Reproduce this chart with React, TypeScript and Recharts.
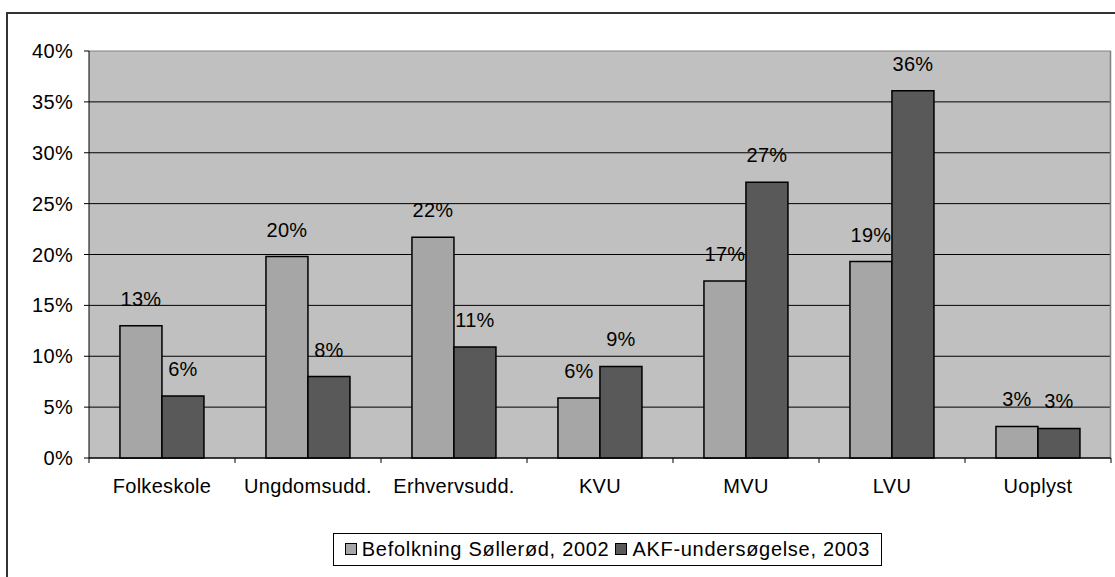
import React from 'react';
import { BarChart, Bar, XAxis, YAxis, CartesianGrid, LabelList } from 'recharts';

const categories = ['Folkeskole', 'Ungdomsudd.', 'Erhvervsudd.', 'KVU', 'MVU', 'LVU', 'Uoplyst'];
const befolkning = [13.0, 19.8, 21.7, 5.9, 17.4, 19.3, 3.1];
const akf = [6.1, 8.0, 10.9, 9.0, 27.1, 36.1, 2.9];
const yTicks = [0, 5, 10, 15, 20, 25, 30, 35, 40];
const seriesNames = ['Befolkning Søllerød, 2002', 'AKF-undersøgelse, 2003'];

const data = categories.map((name, i) => ({ name, befolkning: befolkning[i], akf: akf[i] }));

const W = 1115;
const H = 577;
const MARGIN = { top: 51, right: 4, bottom: 89, left: 9 };
const Y_WIDTH = 80;
const X_HEIGHT = 30;
const PLOT_LEFT = MARGIN.left + Y_WIDTH;
const PLOT_RIGHT = W - MARGIN.right;
const BAND = (PLOT_RIGHT - PLOT_LEFT) / categories.length;

const LIGHT = '#A6A6A6';
const DARK = '#595959';
const FONT = '"Liberation Sans", Arial, sans-serif';
const textStyle = { fontFamily: FONT, fontSize: 20, letterSpacing: 0.3, fill: '#000' };

const pct = (v: any) => `${Math.round(Number(v))}%`;

const CategoryTick = (props: any) => {
  const { x, y, payload, index } = props;
  const left = x - BAND / 2;
  return (
    <g>
      <line x1={left} y1={y} x2={left} y2={y + 5} stroke="#000" />
      {index === categories.length - 1 && (
        <line x1={left + BAND} y1={y} x2={left + BAND} y2={y + 5} stroke="#000" />
      )}
      <text x={x} y={y + 35} textAnchor="middle" style={textStyle}>
        {payload.value}
      </text>
    </g>
  );
};

const GridLine = (p: any) => (
  <line
    key={p.key}
    x1={p.x1}
    y1={p.y1}
    x2={p.x2}
    y2={p.y2}
    stroke={p.y1 < MARGIN.top + 2 ? '#808080' : '#000'}
    strokeWidth={1}
  />
);

const BorderLine = (p: any) => (
  <line key={p.key} x1={p.x1} y1={p.y1} x2={p.x2} y2={p.y2} stroke="#808080" strokeWidth={1.5} />
);

const Swatch = ({ color }: { color: string }) => (
  <span
    style={{
      display: 'inline-block',
      width: 10,
      height: 10,
      background: color,
      border: '1px solid #000',
      marginRight: 5,
      verticalAlign: 'middle',
      position: 'relative',
      top: -1,
    }}
  />
);

export default function App() {
  return (
    <div style={{ position: 'absolute', left: 0, top: 0, width: W, height: H, background: '#fff', overflow: 'hidden' }}>
      <div
        style={{
          position: 'absolute',
          left: 6,
          top: 12,
          width: W,
          height: H,
          borderLeft: '2px solid #333',
          borderTop: '2px solid #333',
        }}
      />
      <div style={{ position: 'absolute', left: 0, top: 0 }}>
        <BarChart width={W} height={H} data={data} margin={MARGIN} barCategoryGap="21.2%" barGap={0}>
          <CartesianGrid
            fill="#C0C0C0"
            stroke="#000"
            horizontal={GridLine}
            vertical={BorderLine}
            verticalPoints={[PLOT_RIGHT - 0.5]}
          />
          <XAxis
            dataKey="name"
            height={X_HEIGHT}
            axisLine={{ stroke: '#000' }}
            tickLine={false}
            tickSize={0}
            tickMargin={0}
            interval={0}
            tick={<CategoryTick />}
          />
          <YAxis
            width={Y_WIDTH}
            domain={[0, 40]}
            ticks={yTicks}
            tickFormatter={(v) => `${v}%`}
            axisLine={{ stroke: '#000' }}
            tickLine={{ stroke: '#000' }}
            tickSize={5}
            tickMargin={11}
            tick={textStyle}
          />
          <Bar dataKey="befolkning" fill={LIGHT} stroke="#000" strokeWidth={1.5} isAnimationActive={false}>
            <LabelList dataKey="befolkning" position="top" offset={20} formatter={pct} style={textStyle} />
          </Bar>
          <Bar dataKey="akf" fill={DARK} stroke="#000" strokeWidth={1.5} isAnimationActive={false}>
            <LabelList dataKey="akf" position="top" offset={20} formatter={pct} style={textStyle} />
          </Bar>
        </BarChart>
      </div>
      <div
        style={{
          position: 'absolute',
          left: 333,
          top: 533,
          width: 549,
          height: 33,
          border: '1px solid #000',
          display: 'flex',
          alignItems: 'center',
          justifyContent: 'center',
          fontFamily: FONT,
          fontSize: 20,
          letterSpacing: 0.7,
          whiteSpace: 'nowrap',
          boxSizing: 'border-box',
        }}
      >
        <Swatch color={LIGHT} />
        <span style={{ marginRight: 6 }}>{seriesNames[0]}</span>
        <Swatch color={DARK} />
        <span>{seriesNames[1]}</span>
      </div>
    </div>
  );
}
